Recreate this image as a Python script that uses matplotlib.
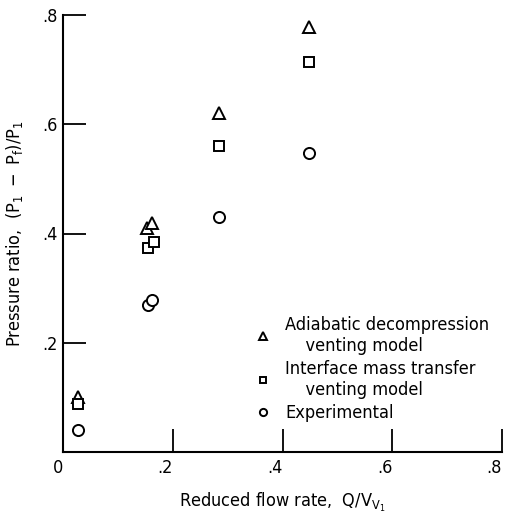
import matplotlib
matplotlib.use("Agg")
import matplotlib.pyplot as plt

plt.rcParams['font.family'] = ['DejaVu Sans']
plt.rcParams['font.stretch'] = 'condensed'
plt.rcParams['mathtext.default'] = 'regular'

# Data
adiabatic_x = [0.028, 0.153, 0.163, 0.285, 0.449]
adiabatic_y = [0.100, 0.410, 0.420, 0.620, 0.778]
interface_x = [0.028, 0.155, 0.166, 0.285, 0.448]
interface_y = [0.088, 0.374, 0.385, 0.560, 0.714]
exper_x = [0.028, 0.155, 0.162, 0.285, 0.449]
exper_y = [0.040, 0.270, 0.278, 0.430, 0.548]

xticks = [0, 0.2, 0.4, 0.6, 0.8]
xticklabels = ['0', '.2', '.4', '.6', '.8']
yticks = [0.2, 0.4, 0.6, 0.8]
yticklabels = ['.2', '.4', '.6', '.8']

labels = ['Adiabatic decompression\n    venting model',
          'Interface mass transfer\n    venting model',
          'Experimental']

fig = plt.figure(figsize=(5.10, 5.18), dpi=100)
ax = fig.add_axes([63/510, 1-452/518, (502-63)/510, (452-15)/518])

ms = 8.5
mew = 1.4
ax.plot(adiabatic_x, adiabatic_y, linestyle='none', marker='^', ms=ms, mfc='white',
        mec='black', mew=mew, label=labels[0], clip_on=False)
ax.plot(interface_x, interface_y, linestyle='none', marker='s', ms=ms-1, mfc='white',
        mec='black', mew=mew, label=labels[1], clip_on=False)
ax.plot(exper_x, exper_y, linestyle='none', marker='o', ms=ms-0.5, mfc='white',
        mec='black', mew=mew, label=labels[2], clip_on=False)

ax.set_xlim(0, 0.8)
ax.set_ylim(0, 0.8)
for s in ['top', 'right']:
    ax.spines[s].set_visible(False)
for s in ['left', 'bottom']:
    ax.spines[s].set_linewidth(1.5)

ax.set_xticks(xticks)
ax.set_xticklabels(xticklabels, ha='right')
ax.set_yticks(yticks)
ax.set_yticklabels(yticklabels)
ax.tick_params(axis='both', direction='in', length=16.5, width=1.3, labelsize=13, color='black')
ax.tick_params(axis='x', pad=5)
ax.tick_params(axis='y', pad=4)

ax.set_xlabel(r'Reduced flow rate,  $Q/V_{V_1}$', fontsize=13, labelpad=10)
ax.set_ylabel(r'Pressure ratio,  $(P_1\ -\ P_f)/P_1$', fontsize=13, labelpad=12)

leg = ax.legend(loc='upper left', bbox_to_anchor=((258-63)/439, (452-316)/437),
                frameon=False, fontsize=13, markerscale=0.65, handlelength=0.6,
                handletextpad=0.9, labelspacing=0.3, borderpad=0, borderaxespad=0)

fig.savefig('out.png', dpi=100)
